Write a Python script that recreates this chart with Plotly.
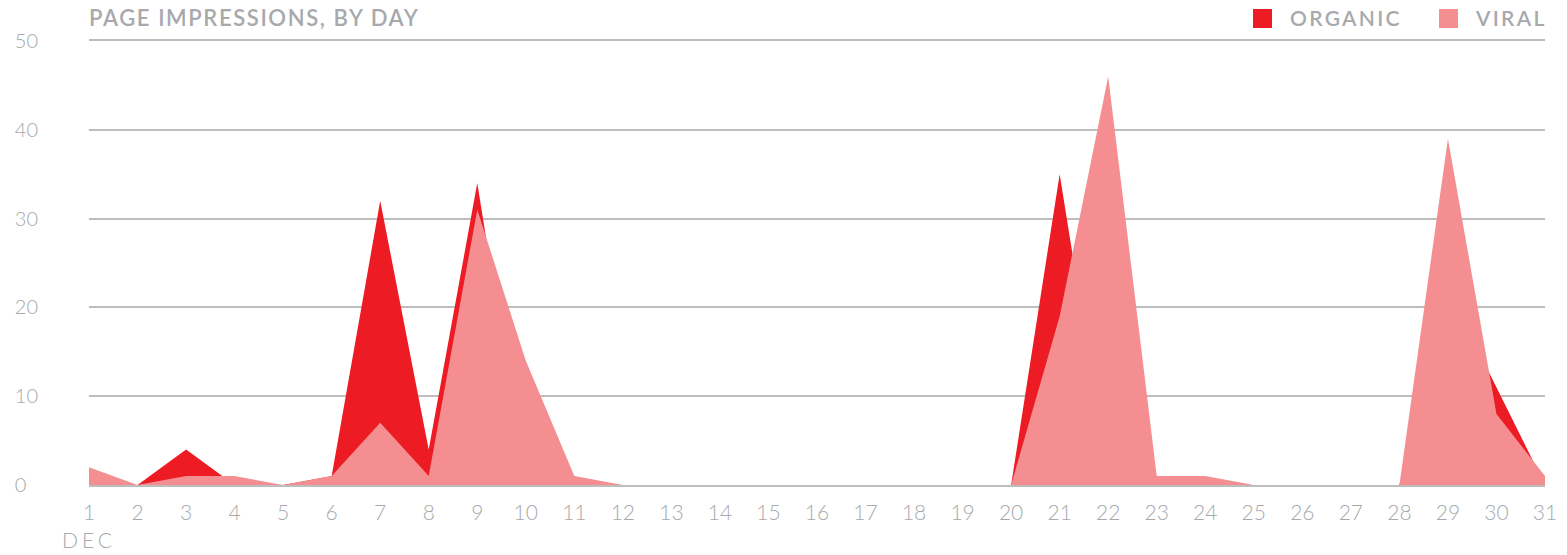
import plotly.graph_objects as go

# Daily page impressions for December
days = list(range(1, 32))
organic = [0, 0, 4, 0, 0, 1, 32, 4, 34, 0, 0, 0, 0, 0, 0, 0, 0, 0, 0, 0,
           35, 1, 0, 0, 0, 0, 0, 0, 22, 11, 0]
viral = [2, 0, 1, 1, 0, 1, 7, 1, 31, 14, 1, 0, 0, 0, 0, 0, 0, 0, 0, 0,
         19, 46, 1, 1, 0, 0, 0, 0, 39, 8, 1]

x_tick_text = ["1<br><span style='letter-spacing:4px'>DEC</span>"] + [str(d) for d in days[1:]]
y_ticks = [0, 10, 20, 30, 40, 50]
# figure space keeps the single digit flush left with the others
y_tick_text = ["0\u2007", "10", "20", "30", "40", "50"]

RED = "#ED1C24"
PINK = "#F48E91"
GREY = "#A7A9AC"
GRID = "#BDBDBD"
FONT = "Lato"

fig = go.Figure()
fig.add_trace(go.Scatter(
    x=days, y=organic, name="ORGANIC", mode="lines",
    line=dict(width=0, color=RED), fill="tozeroy", fillcolor=RED,
    showlegend=False, hoverinfo="x+y",
))
fig.add_trace(go.Scatter(
    x=days, y=viral, name="VIRAL", mode="lines",
    line=dict(width=0, color=PINK), fill="tozeroy", fillcolor=PINK,
    showlegend=False, hoverinfo="x+y",
))

title_y = (485 - 18) / 444

fig.update_layout(
    width=1567, height=555,
    margin=dict(l=89, r=22, t=41, b=70),
    paper_bgcolor="white", plot_bgcolor="white",
    font=dict(family=FONT, color=GREY),
    xaxis=dict(
        range=[1, 31], tickvals=days, ticktext=x_tick_text,
        showgrid=False, zeroline=False, ticks="", automargin=False,
        # bottom and mirrored top lines close the 0 and 50 grid levels
        showline=True, mirror=True, linecolor=GRID, linewidth=2,
        layer="below traces",
        tickfont=dict(size=21, color=GREY, family=FONT, weight=300),
        ticklabelstandoff=8,
    ),
    yaxis=dict(
        range=[0, 50], tickvals=y_ticks, ticktext=y_tick_text,
        showgrid=True, gridcolor=GRID, gridwidth=2,
        zeroline=False, showline=False, ticks="", automargin=False,
        tickfont=dict(size=20, color=GREY, family=FONT, weight=300),
        ticklabelstandoff=50,
    ),
    annotations=[
        dict(text="<span style='letter-spacing:1.6px'>PAGE IMPRESSIONS, BY DAY</span>",
             xref="paper", yref="paper", x=-2 / 1456, y=title_y,
             xanchor="left", yanchor="middle", showarrow=False,
             font=dict(size=22, color=GREY, family=FONT, weight=600)),
        dict(text="<span style='letter-spacing:2.3px'>ORGANIC</span>",
             xref="paper", yref="paper", x=(1288 - 89) / 1456, y=title_y,
             xanchor="left", yanchor="middle", showarrow=False,
             font=dict(size=21, color=GREY, family=FONT, weight=600)),
        dict(text="<span style='letter-spacing:2.3px'>VIRAL</span>",
             xref="paper", yref="paper", x=(1473 - 89) / 1456, y=title_y,
             xanchor="left", yanchor="middle", showarrow=False,
             font=dict(size=21, color=GREY, family=FONT, weight=600)),
    ],
    shapes=[
        dict(type="rect", xref="paper", yref="paper",
             x0=(1253 - 89) / 1456, x1=(1272 - 89) / 1456,
             y0=(485 - 28) / 444, y1=(485 - 9) / 444,
             fillcolor=RED, line=dict(width=0)),
        dict(type="rect", xref="paper", yref="paper",
             x0=(1439 - 89) / 1456, x1=(1458 - 89) / 1456,
             y0=(485 - 28) / 444, y1=(485 - 9) / 444,
             fillcolor=PINK, line=dict(width=0)),
    ],
)

fig.write_html("out.html")
